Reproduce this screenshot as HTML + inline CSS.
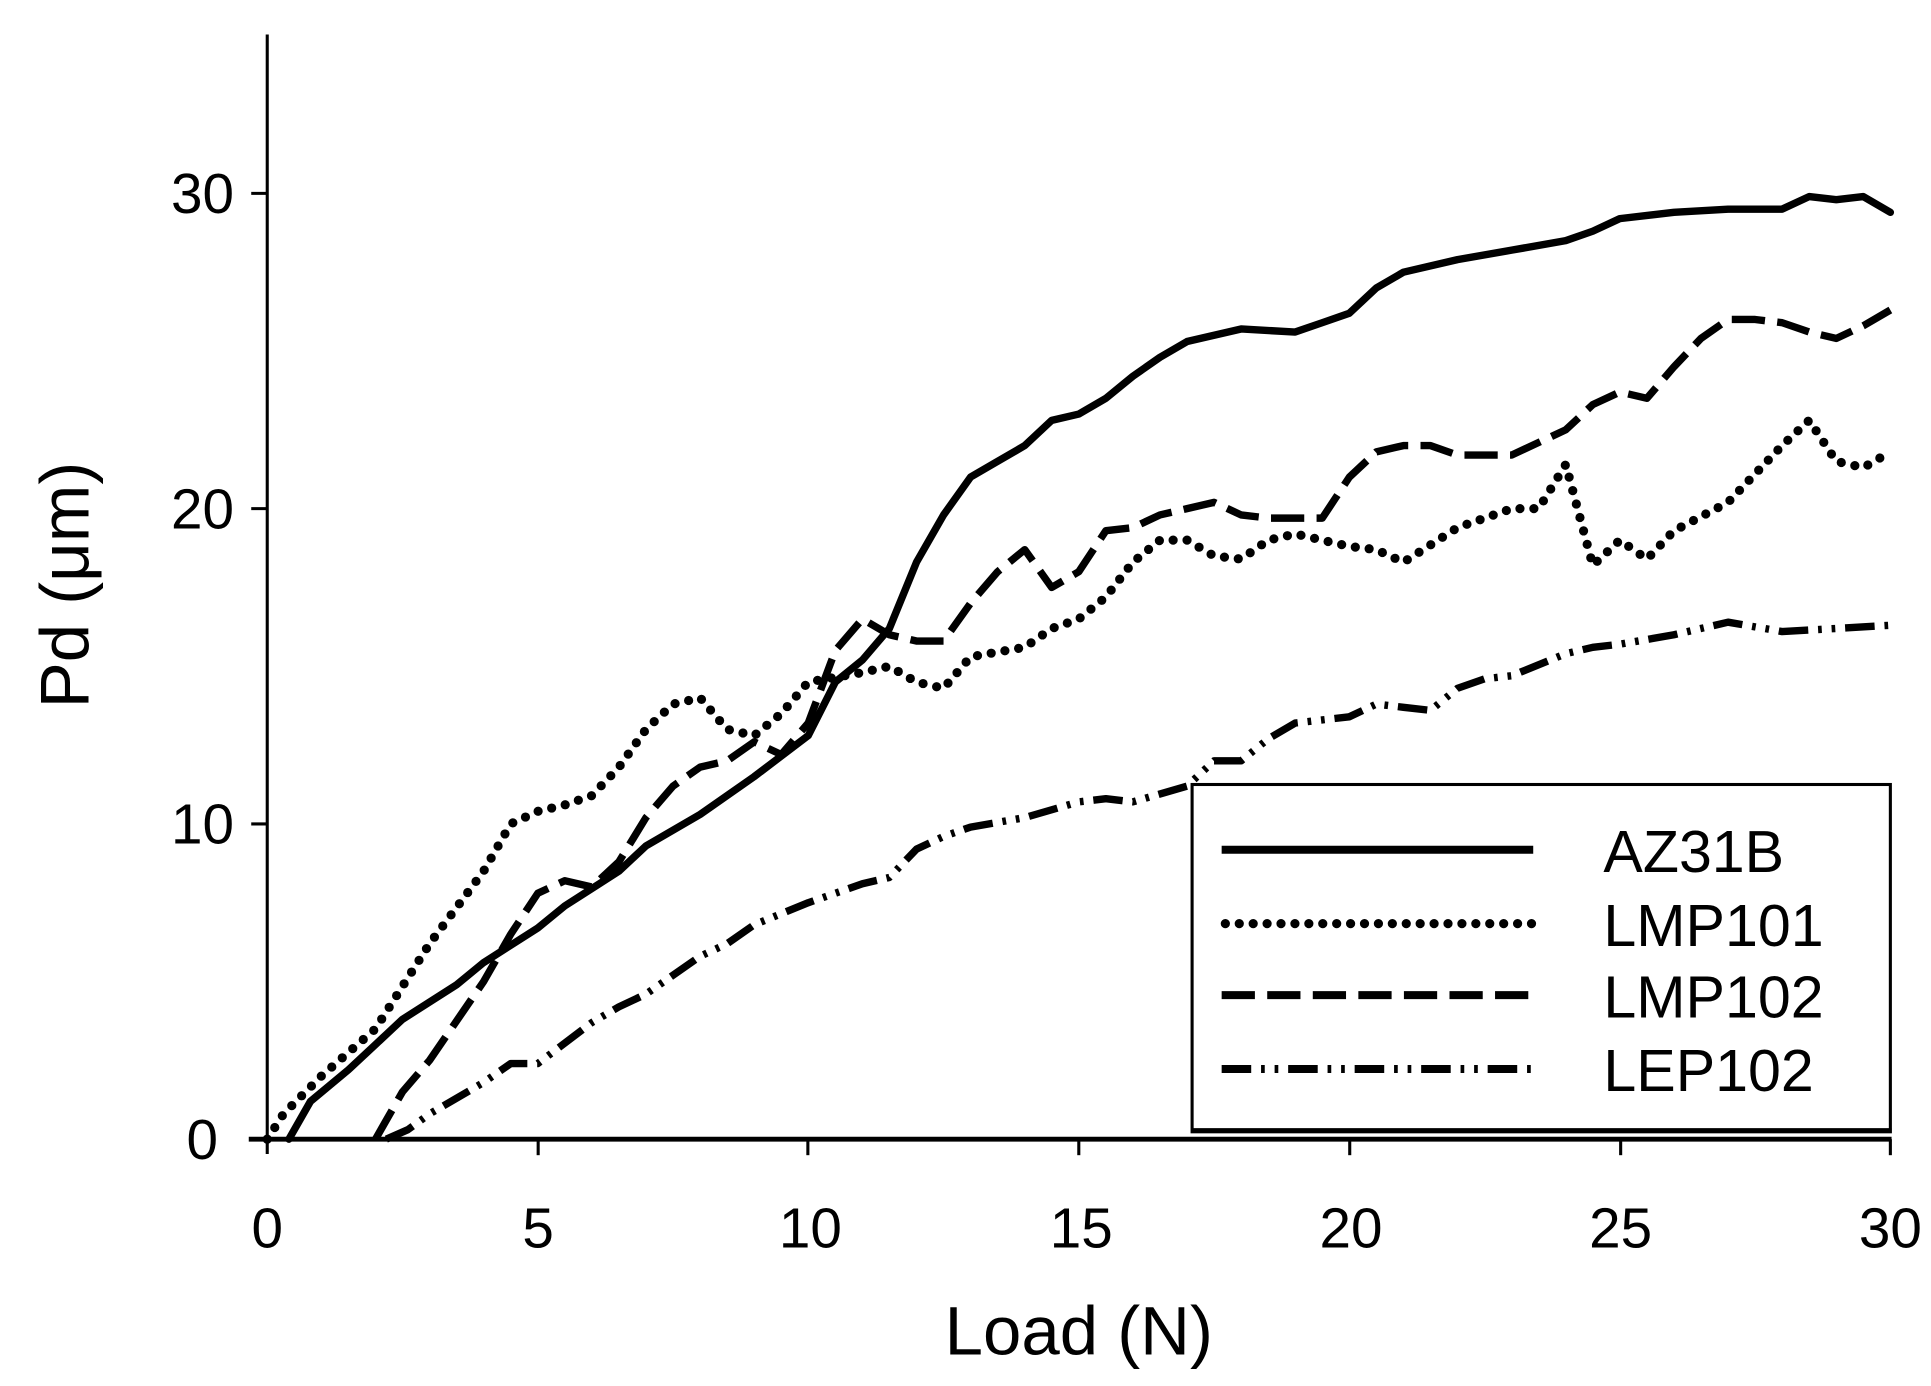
<!DOCTYPE html>
<html><head><style>html,body{margin:0;padding:0;background:#fff}svg{display:block}</style></head>
<body>
<svg id="s" width="1931" height="1386" viewBox="0 0 1568 1125.4" xmlns="http://www.w3.org/2000/svg" font-family="Liberation Sans, Arial, sans-serif">
<rect width="1568" height="1126" fill="#fff"/>
<g stroke="#000" stroke-width="2.5" fill="none">
<line x1="217" y1="28" x2="217" y2="937"/>
<line x1="204" y1="157" x2="217" y2="157"/>
<line x1="204" y1="413" x2="217" y2="413"/>
<line x1="204" y1="669" x2="217" y2="669"/>
<line x1="204" y1="925" x2="217" y2="925"/>
<line x1="437" y1="925" x2="437" y2="938"/>
<line x1="656" y1="925" x2="656" y2="938"/>
<line x1="876" y1="925" x2="876" y2="938"/>
<line x1="1096" y1="925" x2="1096" y2="938"/>
<line x1="1316" y1="925" x2="1316" y2="938"/>
<line x1="1535" y1="925" x2="1535" y2="938"/>
</g>
<line x1="202" y1="925" x2="1536" y2="925" stroke="#000" stroke-width="4"/>
<g font-size="46" text-anchor="end" fill="#000">
<text x="190" y="173">30</text><text x="190" y="429">20</text><text x="190" y="685">10</text><text x="177" y="941">0</text>
</g>
<g font-size="46" text-anchor="middle" fill="#000">
<text x="217" y="1013">0</text><text x="437" y="1013">5</text><text x="658" y="1013">10</text><text x="878" y="1013">15</text><text x="1097" y="1013">20</text><text x="1316" y="1013">25</text><text x="1535" y="1013">30</text>
</g>
<text x="876" y="1100" font-size="56" text-anchor="middle">Load (N)</text>
<text transform="translate(72,475) rotate(-90)" font-size="56" text-anchor="middle">Pd (μm)</text>
<g id="curves" fill="none" stroke="#000" stroke-linejoin="round"></g>
<rect x="968" y="637" width="567" height="282" fill="#fff" stroke="#000" stroke-width="2.5"/>
<line x1="968" y1="918" x2="1536" y2="918" stroke="#000" stroke-width="4"/>
<g stroke="#000" stroke-width="6.5" fill="none">
<line x1="992" y1="690" x2="1245" y2="690"/>
<line x1="995" y1="750" x2="1245" y2="750" stroke-dasharray="0 11.3" stroke-linecap="round" stroke-width="7.5"/>
<line x1="992" y1="808" x2="1245" y2="808" stroke-dasharray="27 10"/>
<line x1="992" y1="868" x2="1245" y2="868" stroke-dasharray="24 8 3 8 3 8"/>
</g>
<g font-size="48" fill="#000">
<text x="1302" y="708">AZ31B</text><text x="1302" y="768">LMP101</text><text x="1302" y="826">LMP102</text><text x="1302" y="886">LEP102</text>
</g>
</svg>
<script>
var D={
az:[[0.4,0],[0.8,1.2],[1.5,2.2],[2,3],[2.5,3.8],[3.5,4.9],[4,5.6],[5,6.7],[5.5,7.4],[6.5,8.5],[7,9.3],[8,10.3],[9,11.5],[10,12.8],[10.5,14.5],[11,15.2],[11.5,16.2],[12,18.3],[12.5,19.8],[13,21],[13.5,21.5],[14,22],[14.5,22.8],[15,23],[15.5,23.5],[16,24.2],[16.5,24.8],[17,25.3],[18,25.7],[19,25.6],[19.5,25.9],[20,26.2],[20.5,27],[21,27.5],[22,27.9],[23,28.2],[24,28.5],[24.5,28.8],[25,29.2],[26,29.4],[27,29.5],[28,29.5],[28.5,29.9],[29,29.8],[29.5,29.9],[30,29.4]],
l1:[[0,0],[0.3,0.8],[1,2],[2,3.5],[3,6.2],[4,8.5],[4.5,10],[5,10.4],[5.5,10.6],[6,10.9],[6.5,11.8],[7,13],[7.5,13.8],[8,14],[8.5,13],[9,12.8],[9.5,13.5],[10,14.5],[11,14.8],[11.5,15],[12,14.5],[12.5,14.3],[13,15.3],[14,15.6],[14.5,16.2],[15,16.5],[15.5,17.2],[16,18.3],[16.5,19],[17,19],[17.5,18.5],[18,18.4],[18.5,19],[19,19.2],[20,18.8],[20.5,18.7],[21,18.3],[22,19.4],[23,20],[23.5,20],[24,21.4],[24.5,18.2],[25,19],[25.5,18.4],[26,19.3],[27,20.2],[28,22],[28.5,22.8],[29,21.5],[29.5,21.3],[30,21.8]],
l2:[[2,0],[2.5,1.5],[3,2.5],[4,5],[4.5,6.5],[5,7.8],[5.5,8.2],[6,8],[6.5,8.8],[7,10.2],[7.5,11.2],[8,11.8],[8.5,12],[9,12.6],[9.5,12.2],[10,13.2],[10.5,15.5],[11,16.5],[11.5,16],[12,15.8],[12.5,15.8],[13,17],[13.5,18],[14,18.7],[14.5,17.5],[15,18],[15.5,19.3],[16,19.4],[16.5,19.8],[17,20],[17.5,20.2],[18,19.8],[18.5,19.7],[19,19.7],[19.5,19.7],[20,21],[20.5,21.8],[21,22],[21.5,22],[22,21.7],[23,21.7],[24,22.5],[24.5,23.3],[25,23.7],[25.5,23.5],[26,24.5],[26.5,25.4],[27,26],[27.5,26],[28,25.9],[28.5,25.6],[29,25.4],[29.5,25.8],[30,26.3]],
le:[[2.2,0],[2.6,0.3],[3,0.8],[4,1.8],[4.5,2.4],[5,2.4],[6,3.7],[6.5,4.2],[7,4.6],[8,5.8],[8.5,6.2],[9,6.8],[10,7.5],[10.5,7.8],[11,8.1],[11.5,8.3],[12,9.2],[12.5,9.6],[13,9.9],[14,10.2],[15,10.7],[15.5,10.8],[16,10.7],[17,11.2],[17.5,12],[18,12],[18.5,12.7],[19,13.2],[20,13.4],[20.5,13.8],[21,13.7],[21.5,13.6],[22,14.3],[22.5,14.6],[23,14.7],[24,15.4],[24.5,15.6],[25,15.7],[26,16],[27,16.4],[28,16.1],[29,16.2],[30,16.3]]};
var st={az:['none','round','6'],l1:['0 11.3','round','7.5'],l2:['27 10','butt','6'],le:['24 8 3 8 3 8','butt','6']};
var g=document.getElementById('curves'),ns='http://www.w3.org/2000/svg';
for(var k in D){var p=D[k].map(function(q,i){return (i?'L':'M')+(217+q[0]*43.933).toFixed(1)+' '+(925-q[1]*25.6).toFixed(1)}).join(' ');
var e=document.createElementNS(ns,'path');e.setAttribute('d',p);e.setAttribute('stroke-width',st[k][2]);
if(st[k][0]!='none')e.setAttribute('stroke-dasharray',st[k][0]);e.setAttribute('stroke-linecap',st[k][1]);g.appendChild(e);}
</script>
</body></html>
